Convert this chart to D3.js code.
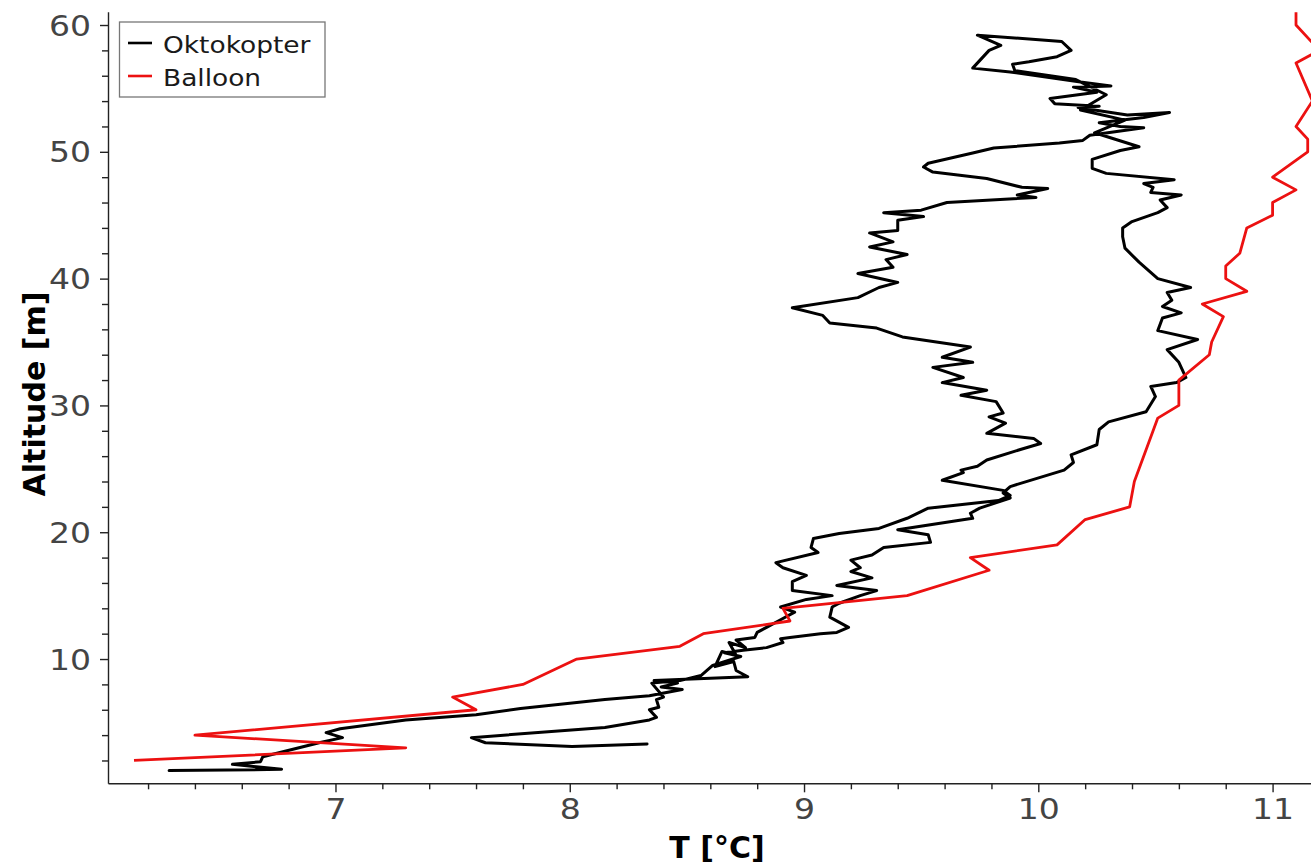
<!DOCTYPE html>
<html>
<head>
<meta charset="utf-8">
<script src="https://cdn.jsdelivr.net/npm/d3@7"></script>
<style>
  html, body { margin: 0; padding: 0; background: #fff; }
  svg { display: block; }
</style>
</head>
<body>
<div id="chart"></div>
<script>
// Oktokopter profile (ascent then descent), temperature [°C] and altitude [m]
const oktoT = [
  6.29, 6.77, 6.56, 6.68, 6.69, 6.93, 7.03, 6.96, 7.02, 7.30,
  7.60, 7.79, 8.15, 8.34, 8.48, 8.39, 8.46, 8.36, 8.76, 8.71,
  8.70, 8.62, 8.65, 8.71, 8.68, 8.75, 8.71, 8.79, 8.80, 8.84,
  8.90, 8.96, 8.90, 9.01, 9.12, 8.95, 8.95, 9.01, 8.91, 8.88,
  9.06, 9.03, 9.04, 9.15, 9.32, 9.44, 9.53, 9.83, 9.88, 9.85,
  9.59, 9.68, 9.67, 9.74, 9.78, 9.92, 10.01, 9.98, 9.78, 9.86,
  9.79, 9.85, 9.82, 9.67, 9.78, 9.59, 9.68, 9.55, 9.72, 9.59,
  9.71, 9.42, 9.31, 9.11, 9.08, 8.95, 9.23, 9.32, 9.40, 9.23,
  9.38, 9.35, 9.44, 9.28, 9.38, 9.28, 9.40, 9.40, 9.51, 9.34,
  9.50, 9.61, 9.99, 9.91, 10.04, 9.93, 9.78, 9.55, 9.51, 9.53,
  9.72, 9.81, 10.09, 10.19, 10.22, 10.45, 10.35, 10.26, 10.45, 10.56,
  10.38, 10.17, 10.26, 10.07, 10.05, 10.25, 10.15, 10.31, 10.18, 9.88,
  9.72, 9.79, 9.84, 9.74, 10.10,
  10.14, 10.08, 9.96, 9.89, 9.90, 10.16, 10.29, 10.18, 10.37, 10.24,
  10.43, 10.35, 10.23, 10.23, 10.29, 10.58, 10.45, 10.49, 10.48, 10.61,
  10.52, 10.55, 10.51, 10.40, 10.36, 10.36, 10.37, 10.43, 10.51, 10.65,
  10.55, 10.57, 10.53, 10.61, 10.53, 10.51, 10.68, 10.55, 10.60, 10.63,
  10.59, 10.48, 10.50, 10.46, 10.30, 10.26, 10.25, 10.14, 10.15, 10.11,
  9.88, 9.85, 9.88, 9.75, 9.71, 9.72, 9.40, 9.53, 9.54, 9.34,
  9.29, 9.20, 9.24, 9.20, 9.29, 9.14, 9.31, 9.24, 9.15, 9.12,
  9.11, 9.19, 9.14, 9.07, 8.94, 8.90, 8.91, 8.84, 8.74, 8.66,
  8.73, 8.61, 8.56, 8.47, 8.35, 8.40, 8.37, 8.38, 8.34, 8.37,
  8.34, 8.15, 7.58, 7.64, 8.01, 8.33
]
const oktoAlt = [
  1.2, 1.3, 1.7, 1.9, 2.3, 3.4, 3.8, 4.2, 4.5, 5.2,
  5.6, 6.1, 6.8, 7.1, 7.6, 7.8, 8.1, 8.3, 8.6, 9.1,
  9.8, 9.4, 10.6, 10.3, 11.3, 10.9, 11.5, 11.7, 12.1, 12.5,
  13.1, 13.7, 14.1, 14.7, 15.0, 15.4, 16.1, 16.6, 17.2, 17.6,
  18.4, 18.8, 19.5, 19.9, 20.3, 21.1, 21.9, 22.5, 22.9, 23.3,
  24.1, 24.7, 24.9, 25.2, 25.7, 26.5, 27.0, 27.4, 27.8, 28.6,
  29.1, 29.4, 30.3, 30.8, 31.2, 31.8, 32.2, 33.0, 33.4, 33.8,
  34.6, 35.4, 36.1, 36.5, 37.1, 37.7, 38.5, 39.3, 39.7, 40.4,
  40.9, 41.5, 41.9, 42.5, 42.9, 43.6, 43.8, 44.6, 44.9, 45.2,
  45.4, 46.0, 46.4, 46.6, 47.1, 47.2, 47.9, 48.4, 48.8, 49.1,
  49.9, 50.3, 50.7, 50.9, 51.3, 51.9, 52.0, 52.3, 52.7, 53.1,
  52.9, 53.5, 53.6, 53.8, 54.2, 54.7, 55.1, 55.2, 55.5, 56.3,
  56.6, 58.0, 58.4, 59.2, 58.7,
  58.0, 57.5, 57.1, 56.9, 56.4, 55.7, 54.5, 53.3, 52.5, 51.5,
  50.4, 50.1, 49.4, 48.7, 48.3, 47.8, 47.5, 47.2, 46.8, 46.6,
  46.2, 45.6, 45.2, 44.5, 44.0, 43.3, 42.4, 41.3, 40.0, 39.3,
  38.9, 38.3, 37.8, 37.3, 36.9, 35.9, 35.2, 34.4, 33.4, 32.2,
  31.8, 31.5, 30.7, 29.5, 28.7, 28.1, 26.9, 26.1, 25.5, 24.9,
  23.6, 23.1, 22.7, 21.9, 21.5, 21.1, 20.2, 19.8, 19.2, 18.8,
  18.2, 17.8, 17.2, 16.9, 16.4, 15.8, 15.4, 15.0, 14.4, 14.1,
  13.3, 12.5, 12.1, 12.0, 11.7, 11.6, 11.3, 10.9, 10.7, 10.5,
  10.2, 9.5, 8.7, 8.3, 8.1, 7.0, 6.8, 6.2, 6.0, 5.4,
  5.2, 4.6, 3.8, 3.4, 3.1, 3.3
]

// Balloon sounding
const balloonAlt = [2, 3, 4, 6, 7, 8, 10, 11, 12, 13, 14, 15, 17, 18, 19, 21, 22, 24, 28, 29,
  30, 32, 34, 35, 37, 38, 39, 40, 41, 42, 44, 45, 46, 47, 48, 50, 51, 52, 54, 57, 58, 60, 61]
const balloonT = [6.14, 7.30, 6.40, 7.60, 7.50, 7.80, 8.03, 8.47, 8.57, 8.94, 8.91, 9.44, 9.79, 9.71, 10.08, 10.20, 10.39, 10.41, 10.49, 10.51,
  10.60, 10.60, 10.73, 10.74, 10.79, 10.70, 10.89, 10.80, 10.80, 10.86, 10.89, 11.00, 11.00, 11.10, 11.00, 11.15, 11.15, 11.10, 11.17, 11.10, 11.20, 11.10, 11.10]

const xMajor = [7, 8, 9, 10, 11]
const yMajor = [10, 20, 30, 40, 50, 60]
const seriesNames = ['Oktokopter', 'Balloon']
const seriesColors = ['#000000', '#ec1111']

const W = 1311, H = 868
const svg = d3.select('#chart').append('svg')
  .attr('width', W)
  .attr('height', H)

const x = d3.scaleLinear().domain([6.029, 11.164]).range([108, 1311])
const y = d3.scaleLinear().domain([0.2, 61.05]).range([783.3, 11.7])

// clip the lines to the plot area
svg.append('clipPath').attr('id', 'plot-clip')
  .append('rect')
    .attr('x', 108).attr('y', 6)
    .attr('width', W - 108).attr('height', 783.3 - 6)

const okto = oktoT.map((t, i) => [t, oktoAlt[i]])
const balloon = balloonT.map((t, i) => [t, balloonAlt[i]])

const line = d3.line()
  .x(d => x(d[0]))
  .y(d => y(d[1]))

const plot = svg.append('g').attr('clip-path', 'url(#plot-clip)')

plot.append('path')
  .datum(okto)
  .attr('d', line)
  .attr('fill', 'none')
  .attr('stroke', seriesColors[0])
  .attr('stroke-width', 3)
  .attr('stroke-linejoin', 'round')
  .attr('stroke-linecap', 'round')

plot.append('path')
  .datum(balloon)
  .attr('d', line)
  .attr('fill', 'none')
  .attr('stroke', seriesColors[1])
  .attr('stroke-width', 2.8)
  .attr('stroke-linejoin', 'round')

// axes
const labelStyle = function(sel) {
  sel.selectAll('text')
    .style('font-family', '"DejaVu Sans", sans-serif')
    .style('font-size', '28px')
    .attr('fill', '#444')
}

const xMinor = d3.range(31, 56).filter(d => d % 5 !== 0).map(d => d / 5)
const yMinor = d3.range(2, 61, 2).filter(d => d % 10 !== 0)

const xAxis = svg.append('g')
  .attr('transform', 'translate(0,783.3)')
  .call(d3.axisBottom(x).tickValues(xMajor).tickSize(9).tickSizeOuter(0).tickFormat(d3.format('d')))
xAxis.call(labelStyle)
xAxis.selectAll('.tick text')
  .attr('y', 16)
  .attr('transform', 'scale(1.18,1)')

svg.append('g')
  .attr('transform', 'translate(0,783.3)')
  .call(d3.axisBottom(x).tickValues(xMinor).tickSize(6).tickFormat(''))
  .call(g => g.select('.domain').remove())

const yAxis = svg.append('g')
  .attr('transform', 'translate(108,0)')
  .call(d3.axisLeft(y).tickValues(yMajor).tickSize(8).tickSizeOuter(0).tickFormat(d3.format('d')))
yAxis.call(labelStyle)
yAxis.selectAll('.tick text')
  .attr('x', -14.5)
  .attr('dy', '0.36em')
  .attr('transform', 'scale(1.18,1)')

svg.append('g')
  .attr('transform', 'translate(108,0)')
  .call(d3.axisLeft(y).tickValues(yMinor).tickSize(6).tickFormat(''))
  .call(g => g.select('.domain').remove())

svg.selectAll('.domain, .tick line')
  .attr('stroke', '#222')
  .attr('stroke-width', 1.4)

// axis titles
svg.append('text')
  .attr('x', 717)
  .attr('y', 858)
  .attr('text-anchor', 'middle')
  .style('font-family', '"DejaVu Sans", sans-serif')
  .style('font-size', '30px')
  .style('font-weight', 'bold')
  .text('T [°C]')

svg.append('text')
  .attr('transform', 'translate(45,394) rotate(-90)')
  .attr('text-anchor', 'middle')
  .style('font-family', '"DejaVu Sans", sans-serif')
  .style('font-size', '30px')
  .style('font-weight', 'bold')
  .text('Altitude [m]')

// legend
const legend = svg.append('g')
legend.append('rect')
  .attr('x', 119.5).attr('y', 22)
  .attr('width', 205.5).attr('height', 75)
  .attr('fill', '#fff')
  .attr('stroke', '#777')
  .attr('stroke-width', 1.3)

const item = legend.selectAll('.item')
  .data(seriesNames)
  .enter()
  .append('g')
    .attr('class', 'item')
    .attr('transform', (d, i) => 'translate(0,' + (43 + i * 33) + ')')

item.append('line')
  .attr('x1', 128).attr('x2', 152)
  .attr('stroke', (d, i) => seriesColors[i])
  .attr('stroke-width', 2.6)

item.append('g')
  .attr('transform', 'translate(163,10)')
  .append('text')
    .attr('transform', 'scale(1.15,1)')
    .style('font-family', '"DejaVu Sans", sans-serif')
    .style('font-size', '23px')
    .attr('fill', '#1a1a1a')
    .text(d => d)
</script>
</body>
</html>
